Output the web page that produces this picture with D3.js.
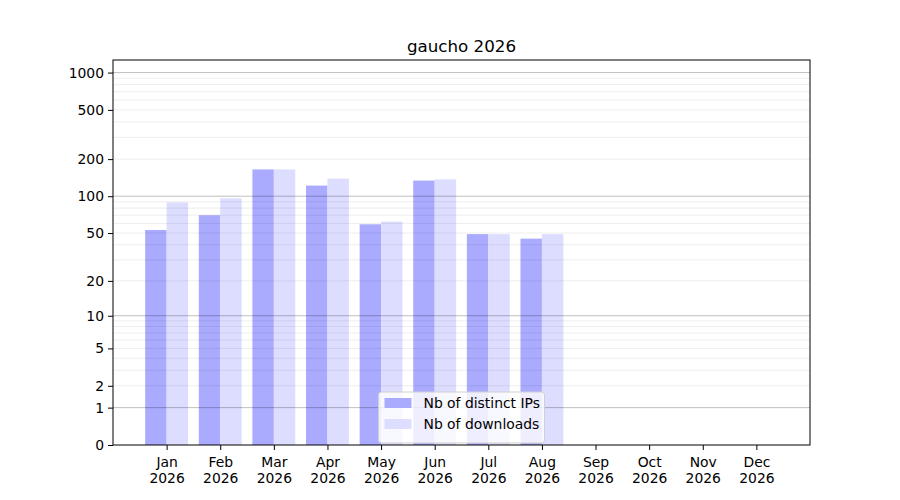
<!DOCTYPE html>
<html lang="en">
  <head>
    <meta charset="UTF-8" />
    <title>gaucho 2026</title>
    <script src="https://cdn.jsdelivr.net/npm/d3@7"></script>
    <style>
      body { margin: 0; background: #fff; }
      svg text { font-family: 'DejaVu Sans', sans-serif; fill: #000; }
    </style>
  </head>
  <body>
    <div id="chart"></div>
    <script>
      // values
      const months = ['Jan', 'Feb', 'Mar', 'Apr', 'May', 'Jun', 'Jul', 'Aug', 'Sep', 'Oct', 'Nov', 'Dec']
      const year = '2026'
      const distinctIPs = [53, 70, 165, 122, 59, 134, 49, 45]
      const downloads = [89, 96, 165, 139, 62, 137, 49, 49]
      const yTicks = [0, 1, 2, 5, 10, 20, 50, 100, 200, 500, 1000]
      const seriesNames = ['Nb of distinct IPs', 'Nb of downloads']
      const seriesColors = ['#aaaaff', '#ddddff']

      const width = 900
      const height = 500
      const margin = { top: 60, right: 90, bottom: 55, left: 113 }
      const innerW = width - margin.left - margin.right
      const innerH = height - margin.top - margin.bottom

      const svg = d3
        .select('#chart')
        .append('svg')
        .attr('width', width)
        .attr('height', height)

      const g = svg.append('g').attr('transform', `translate(${margin.left},${margin.top})`)

      const x = d3.scaleLinear().domain([0, 13]).range([0, innerW])
      const y = d3.scaleSymlog().constant(1).domain([0, 1263]).range([innerH, 0])
      const barW = 0.4

      // bars
      const series = [distinctIPs, downloads]
      series.forEach((vals, s) => {
        g.append('g')
          .selectAll('rect')
          .data(vals)
          .join('rect')
          .attr('x', (d, i) => x(i + 1 - barW + s * barW))
          .attr('width', x(barW) - x(0))
          .attr('y', d => y(d))
          .attr('height', d => y(0) - y(d))
          .attr('fill', seriesColors[s])
      })

      // grid lines (minor 2..9 per decade, major at powers of ten)
      const minor = []
      const major = []
      for (let p = 1; p <= 1000; p *= 10) {
        major.push(p)
        for (let k = 2; k <= 9; k++) if (p * k < 1263) minor.push(p * k)
      }
      const grid = g.append('g')
      grid
        .selectAll('.minor')
        .data(minor)
        .join('line')
        .attr('class', 'minor')
        .attr('x1', 0)
        .attr('x2', innerW)
        .attr('y1', d => y(d))
        .attr('y2', d => y(d))
        .attr('stroke', '#000')
        .attr('stroke-opacity', 0.07)
      grid
        .selectAll('.major')
        .data(major)
        .join('line')
        .attr('class', 'major')
        .attr('x1', 0)
        .attr('x2', innerW)
        .attr('y1', d => y(d))
        .attr('y2', d => y(d))
        .attr('stroke', '#000')
        .attr('stroke-opacity', 0.25)

      // axes
      const yAxis = g
        .append('g')
        .call(d3.axisLeft(y).tickValues(yTicks).tickFormat(d3.format('d')).tickSize(5).tickPadding(4))
      const xAxis = g
        .append('g')
        .attr('transform', `translate(0,${innerH})`)
        .call(
          d3
            .axisBottom(x)
            .tickValues(d3.range(1, 13))
            .tickFormat('')
            .tickSize(5)
        )
      ;[xAxis, yAxis].forEach(a => {
        a.select('.domain').remove()
        a.selectAll('line').attr('stroke', '#000')
        a.selectAll('text').attr('font-size', '13.9px').attr('fill', '#000')
      })

      xAxis
        .selectAll('.tick')
        .append('text')
        .attr('text-anchor', 'middle')
        .attr('font-size', '13.9px')
        .attr('fill', '#000')
        .selectAll('tspan')
        .data((d, i) => [months[i], year])
        .join('tspan')
        .attr('x', 0)
        .attr('y', (d, i) => 22 + i * 16)
        .text(d => d)

      // frame
      g.append('rect')
        .attr('width', innerW)
        .attr('height', innerH)
        .attr('fill', 'none')
        .attr('stroke', '#000')
        .attr('stroke-width', 1)

      // title
      svg
        .append('text')
        .attr('x', margin.left + innerW / 2)
        .attr('y', 52)
        .attr('text-anchor', 'middle')
        .attr('font-size', '16.7px')
        .text('gaucho 2026')

      // legend
      const legW = 166
      const legH = 51
      const leg = g
        .append('g')
        .attr('transform', `translate(${innerW / 2 - legW / 2},${innerH - legH - 2})`)
      leg
        .append('rect')
        .attr('width', legW)
        .attr('height', legH)
        .attr('rx', 3)
        .attr('fill', '#fff')
        .attr('fill-opacity', 0.8)
        .attr('stroke', '#d0d0d0')
      seriesNames.forEach((name, i) => {
        leg
          .append('rect')
          .attr('x', 6)
          .attr('y', 6 + i * 21)
          .attr('width', 27)
          .attr('height', 10)
          .attr('fill', seriesColors[i])
        leg
          .append('text')
          .attr('x', 45)
          .attr('y', 16 + i * 21)
          .attr('font-size', '13.9px')
          .text(name)
      })
    </script>
  </body>
</html>
